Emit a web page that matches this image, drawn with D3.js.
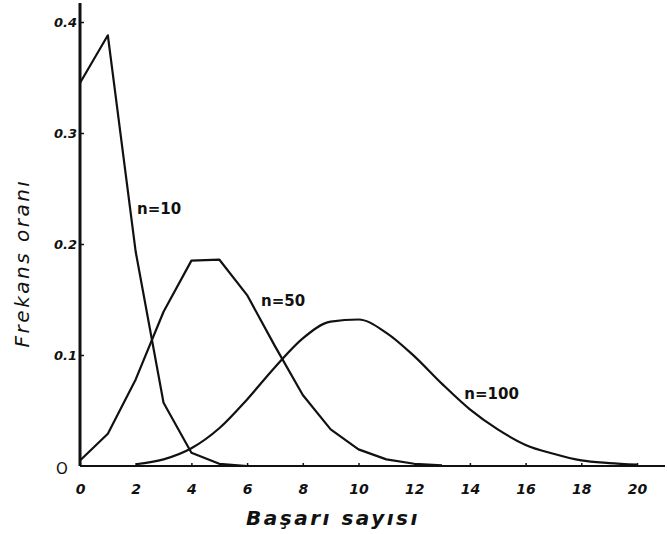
<!DOCTYPE html>
<html><head><meta charset="utf-8">
<script src="https://cdn.jsdelivr.net/npm/d3@7"></script>
<style>body{margin:0;background:#fff}svg text{font-family:"DejaVu Sans",sans-serif;font-weight:bold;fill:#111}</style>
</head><body><svg id="c" width="667" height="534"></svg>
<script>
const xTicks=[0,2,4,6,8,10,12,14,16,18,20];
const yTicks=[0.1,0.2,0.3,0.4];
const yTickLabels=["0.1","0.2","0.3","0.4"];
const k10=[0,1,2,3,4,5,6];
const n10=[0.345,0.388,0.193,0.057,0.012,0.002,0.0];
const k50=[0,1,2,3,4,5,6,7,8,9,10,11,12,13];
const n50=[0.005,0.029,0.078,0.139,0.185,0.186,0.154,0.108,0.064,0.033,0.015,0.006,0.002,0.0005];
const k100=[2,3,4,5,6,7,8,9,10,11,12,13,14,15,16,17,18,19,20];
const n100=[0.0016,0.006,0.016,0.034,0.06,0.089,0.115,0.13,0.132,0.12,0.099,0.074,0.051,0.033,0.019,0.011,0.005,0.0026,0.0012];
const seriesLabels=[{t:"n=10",k:2.05,v:0.227},{t:"n=50",k:6.5,v:0.144},{t:"n=100",k:13.8,v:0.060}];

const svg=d3.select("#c");
const x=d3.scaleLinear().domain([0,20]).range([80,637]);
const y=d3.scaleLinear().domain([0,0.4]).range([466,22]);

svg.append("line").attr("x1",x(0)).attr("x2",665).attr("y1",y(0)).attr("y2",y(0)).attr("stroke","#111").attr("stroke-width",2);
svg.append("line").attr("x1",x(0)).attr("x2",x(0)).attr("y1",y(0)).attr("y2",3).attr("stroke","#111").attr("stroke-width",3);

const yAxis=d3.axisLeft(y).tickValues(yTicks).tickSize(-4).tickFormat((d,i)=>yTickLabels[i]);
const gy=svg.append("g").attr("transform",`translate(${x(0)},0)`).call(yAxis);
gy.select(".domain").remove();
gy.selectAll("line").attr("stroke","#111").attr("stroke-width",1.5);
gy.selectAll("text").attr("x",-3).style("font-size","13px").style("font-style","italic");
svg.append("text").attr("x",62).attr("y",474).attr("text-anchor","middle").style("font-size","15px").style("font-weight","normal").text("O");

const xAxis=d3.axisBottom(x).tickValues(xTicks).tickSize(-3).tickFormat(d=>d);
const gx=svg.append("g").attr("transform",`translate(0,${y(0)})`).call(xAxis);
gx.select(".domain").remove();
gx.selectAll("line").attr("stroke","#111").attr("stroke-width",1.5);
gx.selectAll("text").attr("y",18).style("font-size","14px").style("font-style","italic");

const line=d3.line().x(d=>x(d[0])).y(d=>y(d[1]));
const smooth=d3.line().x(d=>x(d[0])).y(d=>y(d[1])).curve(d3.curveMonotoneX);
const draw=(ks,vs,gen)=>svg.append("path").attr("d",gen(ks.map((k,i)=>[k,vs[i]]))).attr("fill","none").attr("stroke","#111").attr("stroke-width",2.2).attr("stroke-linejoin","round");
draw(k10,n10,line);
draw(k50,n50,line);
draw(k100,n100,smooth);

svg.selectAll(".sl").data(seriesLabels).join("text").attr("class","sl")
  .attr("x",d=>x(d.k)).attr("y",d=>y(d.v)).style("font-size","15px").text(d=>d.t);

svg.append("text").attr("transform","translate(29,263) rotate(-90)").attr("text-anchor","middle")
  .style("font-size","20px").style("letter-spacing","2.5px").style("font-style","italic").style("font-weight","normal").text("Frekans oranı");
svg.append("text").attr("x",333).attr("y",525).attr("text-anchor","middle")
  .style("font-size","20px").style("letter-spacing","2.5px").style("font-style","italic").text("Başarı sayısı");
</script></body></html>
